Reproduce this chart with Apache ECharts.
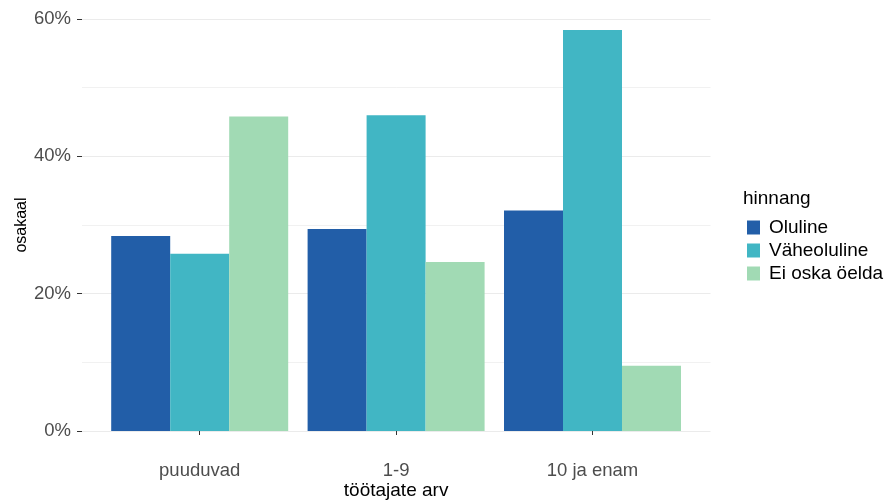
<!DOCTYPE html>
<html>
<head>
<meta charset="utf-8">
<script src="https://cdn.jsdelivr.net/npm/echarts@6/dist/echarts.min.js"></script>
<style>html,body{margin:0;padding:0;background:#fff}#c{width:887px;height:501px}</style>
</head>
<body>
<div id="c"></div>
<script>
const categories = ['puuduvad', '1-9', '10 ja enam'];
const seriesNames = ['Oluline', 'Väheoluline', 'Ei oska öelda'];
const oluline = [28.4, 29.4, 32.1];
const vaheoluline = [25.8, 46.0, 58.4];
const eiOska = [45.8, 24.6, 9.5];
const yTicks = [0, 20, 40, 60];
const colors = ['#225EA8', '#41B6C4', '#A1DAB4'];

const FONT = "'Liberation Sans', Arial, sans-serif";
const chart = echarts.init(document.getElementById('c'), null, {renderer: 'canvas'});
const values = [oluline, vaheoluline, eiOska];

chart.setOption({
  animation: false,
  backgroundColor: '#fff',
  textStyle: {fontFamily: FONT},
  title: {
    text: 'hinnang', left: 743, top: 189, padding: 0,
    textStyle: {fontSize: 19, fontWeight: 'normal', color: '#000', fontFamily: FONT}
  },
  legend: {
    orient: 'vertical', left: 747, top: 218, padding: 0,
    itemWidth: 13, itemHeight: 14, itemGap: 4, icon: 'rect',
    data: seriesNames,
    textStyle: {fontSize: 19, color: '#000', lineHeight: 14, padding: [0, 0, 0, 4], fontFamily: FONT}
  },
  grid: [
    {left: 82, right: 176.5, top: 19, bottom: 70, outerBoundsMode: 'none', containLabel: false},
    {left: 101.5, right: 196.3, top: 19, bottom: 70, outerBoundsMode: 'none', containLabel: false}
  ],
  xAxis: [
    {gridIndex: 0, type: 'value', min: 0, max: 1, show: false},
    {
      gridIndex: 1, type: 'category', data: categories,
      offset: 21,
      axisLine: {show: false},
      axisTick: {show: true, alignWithLabel: true, length: 4, lineStyle: {color: '#333', width: 1}},
      axisLabel: {fontSize: 18.5, color: '#4D4D4D', margin: 9, fontFamily: FONT},
      name: 'töötajate arv', nameLocation: 'middle', nameGap: 29, nameMoveOverlap: false,
      nameTextStyle: {fontSize: 19, color: '#000', fontFamily: FONT}
    }
  ],
  yAxis: [
    {
      gridIndex: 0, type: 'value', min: 0, max: 60, interval: 20,
      axisLine: {show: false},
      axisTick: {show: true, length: 5, lineStyle: {color: '#333', width: 1}},
      axisLabel: {
        fontSize: 18.5, color: '#4D4D4D', margin: 11, fontFamily: FONT,
        customValues: yTicks,
        formatter: v => v + '%'
      },
      splitLine: {show: true, lineStyle: {color: '#EBEBEB', width: 1.2}},
      minorTick: {show: false, splitNumber: 2},
      minorSplitLine: {show: true, lineStyle: {color: '#EEEEEE', width: 0.8}},
      name: 'osakaal', nameLocation: 'middle', nameRotate: 90, nameGap: 52, nameMoveOverlap: false,
      nameTextStyle: {fontSize: 16, color: '#000', fontFamily: FONT}
    },
    {gridIndex: 1, type: 'value', min: 0, max: 60, show: false}
  ],
  series: seriesNames.map((n, i) => ({
    name: n, type: 'bar', xAxisIndex: 1, yAxisIndex: 1,
    data: values[i], barWidth: 59, barGap: '0%',
    itemStyle: {color: colors[i]}
  }))
});
</script>
</body>
</html>
